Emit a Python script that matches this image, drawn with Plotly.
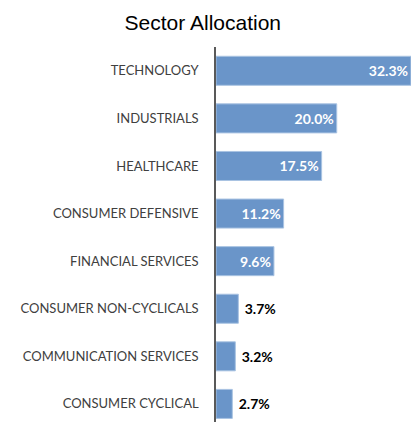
import plotly.graph_objects as go

sectors = ["TECHNOLOGY", "INDUSTRIALS", "HEALTHCARE", "CONSUMER DEFENSIVE",
           "FINANCIAL SERVICES", "CONSUMER NON-CYCLICALS",
           "COMMUNICATION SERVICES", "CONSUMER CYCLICAL"]
weights = [32.3, 20.0, 17.5, 11.2, 9.6, 3.7, 3.2, 2.7]
labels = [f" {w:.1f}%" for w in weights]

fig = go.Figure(go.Bar(
    x=weights, y=sectors, orientation="h",
    text=labels, textposition="auto",
    insidetextanchor="end",
    insidetextfont=dict(color="white", size=14, family="Lato", weight="bold"),
    outsidetextfont=dict(color="black", size=14, family="Lato", weight="bold"),
    marker=dict(color="#6a95c9", line=dict(color="#a9c3e2", width=1)),
    cliponaxis=False,
))

# page body adds an 8px offset, so the figure is sized to fit the window
fig.update_layout(
    width=411, height=414,
    margin=dict(l=208, r=5, t=39, b=0, autoexpand=False),
    plot_bgcolor="white", paper_bgcolor="white",
    bargap=0.39,
    showlegend=False,
    title=dict(text="Sector Allocation", x=0.474, xanchor="center",
               y=0.964, yanchor="middle",
               font=dict(family="Liberation Sans", size=21, color="black")),
    font=dict(family="Lato", size=13, color="#404040"),
)
fig.update_xaxes(range=[0, 32.8], visible=False, automargin=False)
fig.update_yaxes(
    categoryorder="array", categoryarray=sectors,
    range=[7.38, -0.5], automargin=False,
    showline=True, linecolor="#595959", linewidth=1.5,
    ticks="", ticklabelstandoff=13, showgrid=False,
)

fig.write_html("out.html")
